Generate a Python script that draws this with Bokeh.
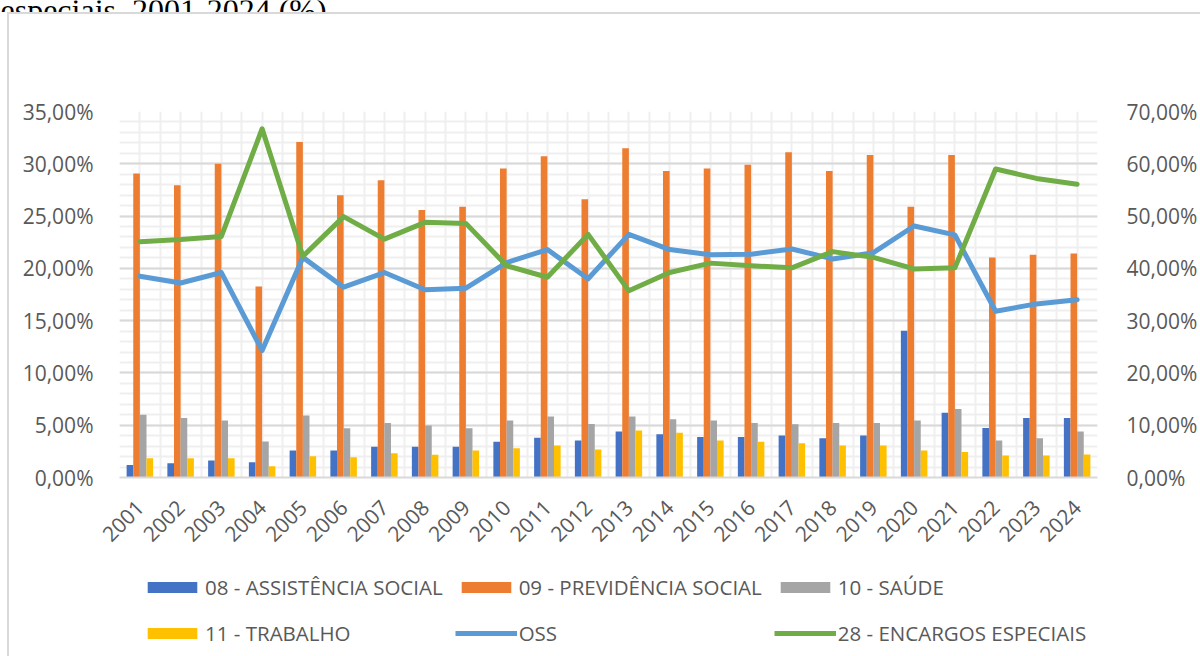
import math
from bokeh.plotting import figure
from bokeh.layouts import column
from bokeh.models import (ColumnDataSource, Range1d, LinearAxis, FixedTicker, Legend,
                          LegendItem, Label)
from bokeh.transform import dodge
from bokeh.embed import file_html
from bokeh.resources import INLINE

years = list(range(2001, 2025))
assistencia = [1.2, 1.37, 1.62, 1.46, 2.58, 2.58, 2.93, 2.93, 2.93, 3.41, 3.79, 3.53,
               4.39, 4.14, 3.88, 3.88, 4.01, 3.75, 4.01, 14.04, 6.18, 4.74, 5.70, 5.70]
previdencia = [29.06, 27.95, 30.0, 18.27, 32.09, 27.0, 28.43, 25.57, 25.9, 29.54, 30.72, 26.6,
               31.49, 29.32, 29.54, 29.9, 31.1, 29.32, 30.85, 25.9, 30.85, 21.04, 21.3, 21.43]
saude = [6.0, 5.7, 5.44, 3.44, 5.92, 4.71, 5.22, 4.97, 4.71, 5.44, 5.83, 5.12,
         5.83, 5.57, 5.44, 5.22, 5.09, 5.22, 5.22, 5.44, 6.56, 3.53, 3.75, 4.39]
trabalho = [1.85, 1.85, 1.85, 1.08, 2.04, 1.94, 2.32, 2.17, 2.58, 2.8, 3.06, 2.67,
            4.49, 4.27, 3.53, 3.41, 3.28, 3.06, 3.06, 2.58, 2.45, 2.1, 2.1, 2.2]
oss = [38.5, 37.2, 39.2, 24.3, 42.1, 36.4, 39.2, 35.9, 36.2, 41.1, 43.6, 38.0,
       46.5, 43.6, 42.6, 42.7, 43.7, 41.8, 43.0, 48.1, 46.4, 31.8, 33.2, 34.0]
encargos = [45.1, 45.5, 46.1, 66.7, 42.3, 49.9, 45.6, 48.8, 48.6, 40.5, 38.3, 46.5,
            35.7, 39.2, 41.0, 40.5, 40.1, 43.2, 42.1, 39.9, 40.1, 59.0, 57.2, 56.1]

left_ticks = [0, 5, 10, 15, 20, 25, 30, 35]
left_labels = ["0,00%", "5,00%", "10,00%", "15,00%", "20,00%", "25,00%", "30,00%", "35,00%"]
right_ticks = [0, 10, 20, 30, 40, 50, 60, 70]
right_labels = ["0,00%", "10,00%", "20,00%", "30,00%", "40,00%", "50,00%", "60,00%", "70,00%"]

names = ["08 - ASSISTÊNCIA SOCIAL", "09 - PREVIDÊNCIA SOCIAL", "10 - SAÚDE",
         "11 - TRABALHO", "OSS", "28 - ENCARGOS ESPECIAIS"]
colors = ["#4472C4", "#ED7D31", "#A5A5A5", "#FFC000", "#5B9BD5", "#70AD47"]
title_text = "especiais, 2001-2024 (%)"

src = ColumnDataSource(dict(year=years, a=assistencia, p=previdencia, s=saude,
                            t=trabalho, o=oss, e=encargos))

FONT = "Open Sans"
TXT = "#595959"
W = 1200
H_TITLE, H_MAIN, H_LEG = 12, 551, 93

unaligned = True


def bare(height):
    global unaligned
    f = figure(width=W, height=height, output_backend="svg", toolbar_location=None,
               x_range=Range1d(0, 1), y_range=Range1d(0, 1),
               x_axis_type=None, y_axis_type=None, min_border=0)
    try:
        f.frame_align = False
    except Exception:
        unaligned = False
    f.grid.visible = False
    f.outline_line_color = None
    f.background_fill_alpha = 0
    f.border_fill_alpha = 0
    return f


# --- title strip (text cut at the top edge, as in the reference) ---
pt = bare(H_TITLE)

# --- main chart ---
p = figure(width=W, height=H_MAIN, output_backend="svg", toolbar_location=None,
           x_range=Range1d(2000.5, 2024.5), y_range=Range1d(0, 35),
           min_border_left=119, min_border_right=98, min_border_top=99,
           min_border_bottom=86)
p.outline_line_color = None
p.background_fill_color = "white"
p.border_fill_alpha = 0
p.extra_y_ranges = {"right": Range1d(0, 70)}

p.yaxis.ticker = FixedTicker(ticks=left_ticks, minor_ticks=list(range(0, 36)))
p.yaxis.major_label_overrides = {t: l for t, l in zip(left_ticks, left_labels)}
p.xaxis.ticker = FixedTicker(ticks=years, minor_ticks=[y - 0.5 for y in years] + [2024.5])
for ax in (p.xaxis[0], p.yaxis[0]):
    ax.major_tick_line_color = None
    ax.minor_tick_line_color = None
    ax.major_label_text_font = FONT
    ax.major_label_text_font_size = "21px"
    ax.major_label_text_color = TXT
p.yaxis.axis_line_color = None
p.yaxis.major_label_standoff = 20
p.xaxis.axis_line_color = "#d9d9d9"
p.xaxis.axis_line_width = 2
p.xaxis.major_label_orientation = math.pi / 4
p.xaxis.major_label_standoff = 20

rax = LinearAxis(y_range_name="right", ticker=FixedTicker(ticks=right_ticks),
                 major_label_overrides={t: l for t, l in zip(right_ticks, right_labels)})
rax.axis_line_color = None
rax.major_tick_line_color = None
rax.minor_tick_line_color = None
rax.major_label_text_font = FONT
rax.major_label_text_font_size = "21px"
rax.major_label_text_color = TXT
rax.major_label_standoff = 23
p.add_layout(rax, "right")

p.ygrid.grid_line_color = "#d9d9d9"
p.ygrid.grid_line_width = 2
p.ygrid.minor_grid_line_color = "#efefef"
p.ygrid.minor_grid_line_width = 2
p.xgrid.grid_line_color = "#efefef"
p.xgrid.grid_line_width = 2
p.xgrid.minor_grid_line_color = "#efefef"
p.xgrid.minor_grid_line_width = 2

w = 0.1626
fields = ["a", "p", "s", "t"]
offsets = [-1.5 * w, -0.5 * w, 0.5 * w, 1.5 * w]
for f, off, c in zip(fields, offsets, colors[:4]):
    p.vbar(x=dodge("year", off), top=f, width=w, source=src, fill_color=c, line_color=None)
p.line("year", "o", source=src, y_range_name="right", line_color=colors[4],
       line_width=5, line_join="round", line_cap="round")
p.line("year", "e", source=src, y_range_name="right", line_color=colors[5],
       line_width=5, line_join="round", line_cap="round")

# --- legend strip (its renderers use the same data, outside this strip's view) ---
pl = bare(H_LEG)
proxies = []
for f, off, c in zip(fields, offsets, colors[:4]):
    proxies.append(pl.vbar(x=dodge("year", off), top=f, width=w, source=src,
                           fill_color=c, line_color=None))
for f, c in zip(["o", "e"], colors[4:]):
    proxies.append(pl.line("year", f, source=src, line_color=c, line_width=5))

x0 = 0 if unaligned else -119
pt.add_layout(Label(x=x0, y=3, x_units="screen", y_units="screen", text=title_text,
                    text_font="Liberation Serif", text_font_size="32px",
                    text_color="black", text_baseline="alphabetic"))

legend = Legend(items=[LegendItem(label=n, renderers=[r]) for n, r in zip(names, proxies)],
                orientation="horizontal", ncols=3, location=(141 + x0, 6))
legend.padding = 0
legend.margin = 0
legend.spacing = 12
legend.border_line_color = None
legend.background_fill_alpha = 0
legend.glyph_width = 62
legend.glyph_height = 14
legend.label_height = 34
legend.label_standoff = 2
legend.label_text_font = FONT
legend.label_text_font_size = "20.5px"
legend.label_text_color = TXT
pl.add_layout(legend, "center")

root = column(pt, p, pl, spacing=0,
              styles={"background-image": "linear-gradient(#d9d9d9, #d9d9d9), "
                                          "linear-gradient(#d9d9d9, #d9d9d9)",
                      "background-repeat": "no-repeat",
                      "background-position": "7px 13px, 7px 12px",
                      "background-size": "2px 700px, 1300px 2px"})

open("out.html", "w").write(file_html(root, INLINE))
